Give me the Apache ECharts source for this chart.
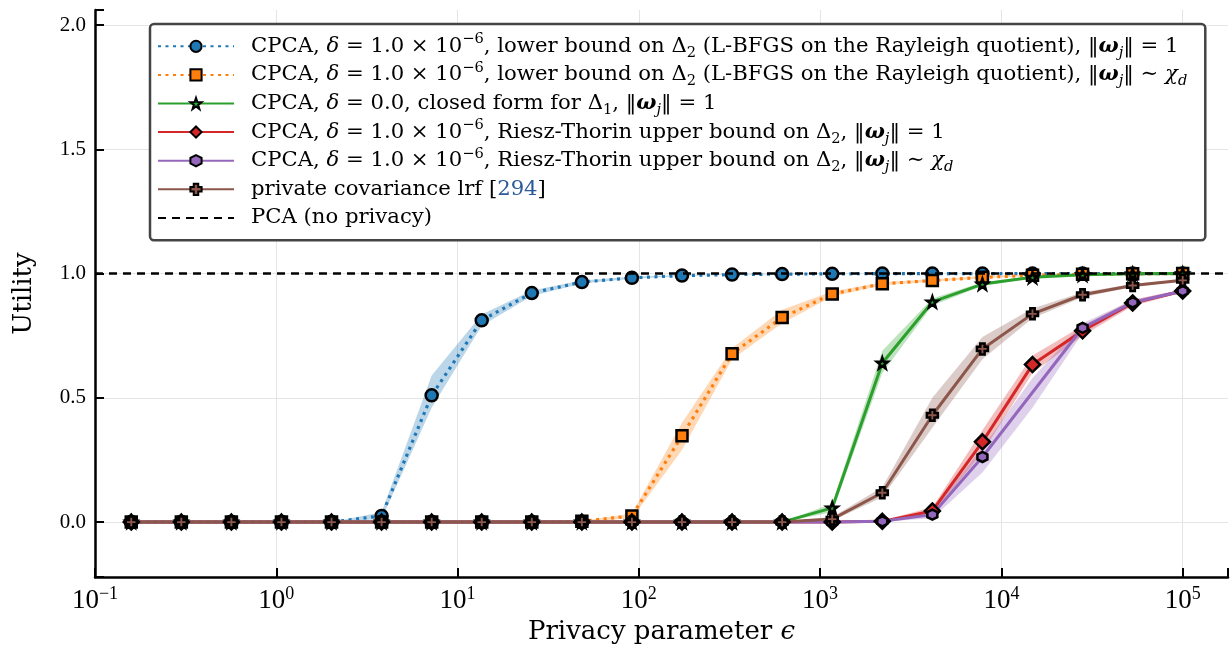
<!DOCTYPE html>
<html>
<head>
<meta charset="utf-8">
<script src="https://cdn.jsdelivr.net/npm/echarts@6/dist/echarts.min.js"></script>
<style>
html,body{margin:0;padding:0;background:#fff;}
#chart{width:1231px;height:653px;}
</style>
</head>
<body>
<div id="chart"></div>
<script>
// ---- data ----
const eps = [0.1585, 0.2994, 0.5655, 1.068, 2.017, 3.810, 7.197, 13.59, 25.67, 48.49, 91.59,
             173.0, 326.8, 617.3, 1166, 2203, 4160, 7859, 14844, 28038, 52960, 100000];

const blue   = [0,0,0,0,0,0.025,0.51,0.812,0.922,0.966,0.983,0.992,0.996,0.998,0.999,1,1,1,1,1,1,1];
const blueLo = [0,0,0,0,0,0.012,0.46,0.79,0.91,0.96,0.979,0.99,0.995,0.997,0.999,1,1,1,1,1,1,1];
const blueHi = [0,0,0,0,0,0.04,0.59,0.835,0.932,0.972,0.987,0.994,0.997,0.999,1,1,1,1,1,1,1,1];

const orange   = [0,0,0,0,0,0,0,0,0,0.003,0.025,0.347,0.678,0.823,0.918,0.959,0.972,0.985,0.993,0.997,0.999,1];
const orangeLo = [0,0,0,0,0,0,0,0,0,0.001,0.015,0.29,0.655,0.80,0.908,0.953,0.967,0.981,0.991,0.996,0.999,1];
const orangeHi = [0,0,0,0,0,0,0,0,0,0.005,0.035,0.40,0.70,0.855,0.928,0.965,0.977,0.989,0.995,0.998,1,1];

const green   = [0,0,0,0,0,0,0,0,0,0,0,0,0,0,0.057,0.640,0.886,0.958,0.985,0.995,0.999,1];
const greenLo = [0,0,0,0,0,0,0,0,0,0,0,0,0,0,0.04,0.60,0.872,0.95,0.982,0.994,0.999,1];
const greenHi = [0,0,0,0,0,0,0,0,0,0,0,0,0,0,0.075,0.69,0.90,0.965,0.988,0.996,1,1];

const red   = [0,0,0,0,0,0,0,0,0,0,0,0,0,0,0,0.003,0.045,0.323,0.634,0.77,0.882,0.93];
const redLo = [0,0,0,0,0,0,0,0,0,0,0,0,0,0,0,0.001,0.03,0.28,0.60,0.75,0.87,0.924];
const redHi = [0,0,0,0,0,0,0,0,0,0,0,0,0,0,0,0.006,0.06,0.37,0.67,0.79,0.895,0.936];

// the k=18 purple point is not visible in the reference (no marker there)
const purple   = [0,0,0,0,0,0,0,0,0,0,0,0,0,0,0,0.003,0.03,0.262,null,0.782,0.884,0.93];
const purpleLo = [0,0,0,0,0,0,0,0,0,0,0,0,0,0,0,0.001,0.015,0.20,0.46,0.76,0.874,0.924];
const purpleHi = [0,0,0,0,0,0,0,0,0,0,0,0,0,0,0,0.006,0.045,0.30,0.58,0.80,0.894,0.936];

const brown   = [0,0,0,0,0,0,0,0,0,0,0,0,0,0,0.012,0.118,0.43,0.697,0.838,0.915,0.952,0.973];
const brownLo = [0,0,0,0,0,0,0,0,0,0,0,0,0,0,0.005,0.10,0.38,0.655,0.82,0.905,0.946,0.970];
const brownHi = [0,0,0,0,0,0,0,0,0,0,0,0,0,0,0.02,0.14,0.50,0.745,0.86,0.925,0.958,0.977];

const pcaLevel = 1.0;
const xMin = 0.1, xMax = 177828;      // axis limits
const yMin = -0.221, yMax = 2.061;

const names = [
  'CPCA, δ = 1.0 × 10^−6, lower bound on Δ2 (L-BFGS on the Rayleigh quotient), ‖ωj‖ = 1',
  'CPCA, δ = 1.0 × 10^−6, lower bound on Δ2 (L-BFGS on the Rayleigh quotient), ‖ωj‖ ∼ χd',
  'CPCA, δ = 0.0, closed form for Δ1, ‖ωj‖ = 1',
  'CPCA, δ = 1.0 × 10^−6, Riesz-Thorin upper bound on Δ2, ‖ωj‖ = 1',
  'CPCA, δ = 1.0 × 10^−6, Riesz-Thorin upper bound on Δ2, ‖ωj‖ ∼ χd',
  'private covariance lrf [294]',
  'PCA (no privacy)'
];
const richNames = {};
richNames[names[0]] = '{n|CPCA, }{i|δ}{n| = 1.0 × 10}{sup|−6}{n|, lower bound on Δ}{sub|2}{n| (L-BFGS on the Rayleigh quotient), ‖}{bi|ω}{subi|j}{n|‖ = 1}';
richNames[names[1]] = '{n|CPCA, }{i|δ}{n| = 1.0 × 10}{sup|−6}{n|, lower bound on Δ}{sub|2}{n| (L-BFGS on the Rayleigh quotient), ‖}{bi|ω}{subi|j}{n|‖ ∼ }{i|χ}{subi|d}';
richNames[names[2]] = '{n|CPCA, }{i|δ}{n| = 0.0, closed form for Δ}{sub|1}{n|, ‖}{bi|ω}{subi|j}{n|‖ = 1}';
richNames[names[3]] = '{n|CPCA, }{i|δ}{n| = 1.0 × 10}{sup|−6}{n|, Riesz-Thorin upper bound on Δ}{sub|2}{n|, ‖}{bi|ω}{subi|j}{n|‖ = 1}';
richNames[names[4]] = '{n|CPCA, }{i|δ}{n| = 1.0 × 10}{sup|−6}{n|, Riesz-Thorin upper bound on Δ}{sub|2}{n|, ‖}{bi|ω}{subi|j}{n|‖ ∼ }{i|χ}{subi|d}';
richNames[names[5]] = '{n|private covariance lrf [}{cite|294}{n|]}';
richNames[names[6]] = '{n|PCA (no privacy)}';

const colors = ['#1f77b4', '#ff7f0e', '#2ca02c', '#d62728', '#9467bd', '#8c564b', '#000000'];

// ---- helpers ----
const SERIF = "'Liberation Serif', 'DejaVu Serif', serif";
const WIDE = "'DejaVu Serif', 'Liberation Serif', serif";
function pairs(ys) { return eps.map((x, i) => [x, ys[i]]); }
function band(lo, hi, color) {
  return {
    type: 'custom', silent: true, z: 1,
    data: eps.map((x, i) => [x, lo[i], hi[i]]),
    encode: { x: 0, y: [1, 2] },
    renderItem: function (params, api) {
      if (params.dataIndex !== 0) return null;
      const pts = [];
      for (let i = 0; i < eps.length; i++) pts.push(api.coord([eps[i], hi[i]]));
      for (let i = eps.length - 1; i >= 0; i--) pts.push(api.coord([eps[i], lo[i]]));
      return { type: 'polygon', shape: { points: pts }, style: { fill: color, opacity: 0.3 } };
    }
  };
}
function lineSeries(name, ys, color, symbol, size, dotted) {
  return {
    name: name, type: 'line', data: pairs(ys), z: 3,
    symbol: symbol, symbolSize: size, showAllSymbol: true, connectNulls: true,
    lineStyle: { color: color, width: dotted ? 3.2 : 3, type: dotted ? [3, 4.5] : 'solid' },
    itemStyle: { color: color, borderColor: '#000', borderWidth: 2.5 },
    emphasis: { disabled: true }, animation: false
  };
}
const plusPath = 'path://M3,0 H7 V3 H10 V7 H7 V10 H3 V7 H0 V3 H3 Z';
const hexPath = 'path://M5,0 L9.33,2.5 L9.33,7.5 L5,10 L0.67,7.5 L0.67,2.5 Z';
const starPath = 'path://M5,0 L6.18,3.38 L9.76,3.45 L6.9,5.62 L7.94,9.05 L5,7 L2.06,9.05 L3.1,5.62 L0.24,3.45 L3.82,3.38 Z';

function supLabel(v) {
  const l = Math.log10(v);
  const e = Math.round(l);
  if (Math.abs(l - e) > 1e-6) return '';
  const s = e < 0 ? '−' + (-e) : String(e);
  return '{b|10}{s|' + s + '}';
}

const LH = 28.6;
const LF = 21.2;   // legend font size
const LS = 14.6;   // legend script size
const chart = echarts.init(document.getElementById('chart'), null, { renderer: 'canvas' });
const option = {
  animation: false,
  backgroundColor: '#fff',
  grid: { left: 95, right: 0, top: 10, bottom: 76, containLabel: false },
  xAxis: {
    type: 'log', logBase: 10, min: xMin, max: xMax, interval: 1,
    name: 'Privacy parameter {e|ϵ}', nameLocation: 'middle', nameGap: 41,
    nameTextStyle: { fontFamily: WIDE, fontSize: 26, color: '#000',
      rich: { e: { fontFamily: WIDE, fontSize: 26, fontStyle: 'italic', color: '#000' } } },
    axisLine: { show: true, onZero: false, lineStyle: { color: '#000', width: 2.5 } },
    axisTick: { show: true, inside: true, length: 9, lineStyle: { color: '#000', width: 2 } },
    axisLabel: {
      margin: 8, color: '#000', showMaxLabel: true,
      formatter: supLabel,
      rich: {
        b: { fontFamily: SERIF, fontSize: 27, color: '#000', lineHeight: 32 },
        s: { fontFamily: SERIF, fontSize: 18, color: '#000', lineHeight: 18, verticalAlign: 'top' }
      }
    },
    splitLine: { show: true, showMinLine: false, showMaxLine: false, lineStyle: { color: '#e5e5e5', width: 1 } },
    minorTick: { show: false }
  },
  yAxis: {
    type: 'value', min: yMin, max: yMax,
    name: 'Utility', nameLocation: 'middle', nameGap: 58,
    nameTextStyle: { fontFamily: WIDE, fontSize: 26, color: '#000' },
    axisLine: { show: true, onZero: false, lineStyle: { color: '#000', width: 2.5 } },
    axisTick: { show: true, inside: true, length: 9, lineStyle: { color: '#000', width: 2 } },
    axisLabel: {
      margin: 9, color: '#000', fontFamily: SERIF, fontSize: 21,
      formatter: function (v) {
        if (Math.abs(v * 2 - Math.round(v * 2)) > 1e-6) return '';
        return v.toFixed(1);
      }
    },
    splitLine: { show: true, showMinLine: false, showMaxLine: false, lineStyle: { color: '#e5e5e5', width: 1 } }
  },
  legend: {
    data: names.slice(0, 6).concat([{ name: names[6], itemStyle: { opacity: 0 } }]),
    orient: 'vertical', left: 150, top: 24,
    backgroundColor: '#fff', borderColor: '#444', borderWidth: 2.5, borderRadius: 4,
    padding: [8, 18, 8, 7],
    itemWidth: 76, itemHeight: 14, itemGap: 0,
    selectedMode: false,
    formatter: function (name) { return richNames[name]; },
    textStyle: {
      padding: [0, 0, 0, 12], height: LH, lineHeight: LH,
      rich: {
        n: { fontFamily: WIDE, fontSize: LF, color: '#000', lineHeight: LH },
        i: { fontFamily: WIDE, fontSize: LF, fontStyle: 'italic', color: '#000', lineHeight: LH },
        bi: { fontFamily: WIDE, fontSize: LF, fontStyle: 'italic', fontWeight: 'bold', color: '#000', lineHeight: LH },
        sup: { fontFamily: WIDE, fontSize: LS, color: '#000', lineHeight: 15, verticalAlign: 'top' },
        sub: { fontFamily: WIDE, fontSize: LS, color: '#000', lineHeight: 20, verticalAlign: 'bottom' },
        subi: { fontFamily: WIDE, fontSize: LS, fontStyle: 'italic', color: '#000', lineHeight: 20, verticalAlign: 'bottom' },
        cite: { fontFamily: WIDE, fontSize: LF, color: '#2a5a9a', lineHeight: LH }
      }
    }
  },
  series: [
    band(blueLo, blueHi, colors[0]),
    band(orangeLo, orangeHi, colors[1]),
    band(greenLo, greenHi, colors[2]),
    band(redLo, redHi, colors[3]),
    band(purpleLo, purpleHi, colors[4]),
    band(brownLo, brownHi, colors[5]),
    lineSeries(names[0], blue, colors[0], 'circle', 12, true),
    lineSeries(names[1], orange, colors[1], 'rect', 11, true),
    lineSeries(names[2], green, colors[2], starPath, 11, false),
    lineSeries(names[3], red, colors[3], 'diamond', 15, false),
    lineSeries(names[4], purple, colors[4], hexPath, 10, false),
    lineSeries(names[5], brown, colors[5], plusPath, 11, false),
    {
      name: names[6], type: 'line', z: 4,
      data: [[xMin, pcaLevel], [xMax, pcaLevel]],
      symbol: 'none',
      lineStyle: { color: '#000', width: 2.5, type: [8, 6] },
      itemStyle: { color: '#000' },
      emphasis: { disabled: true }
    }
  ]
};
chart.setOption(option);
</script>
</body>
</html>
